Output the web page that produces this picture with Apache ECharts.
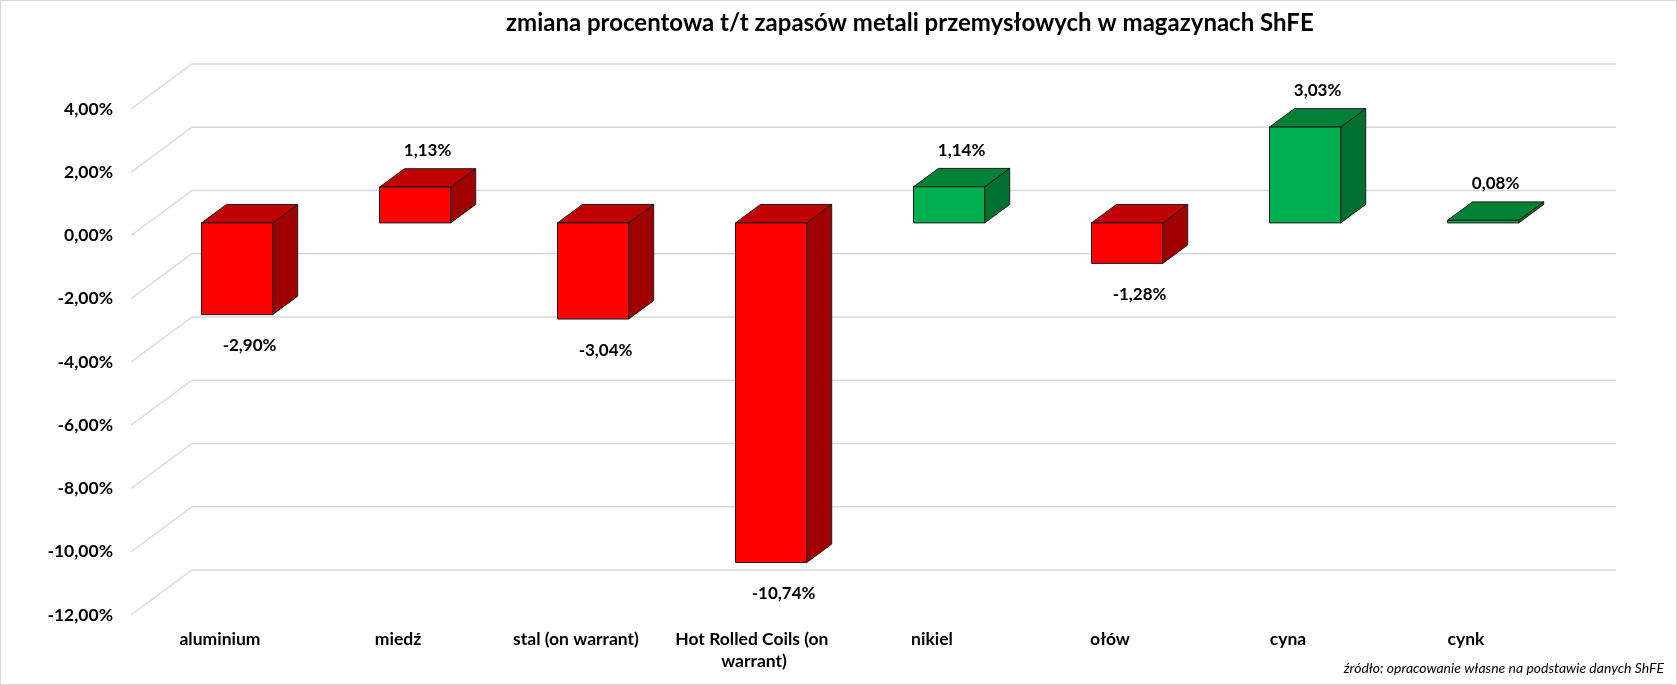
<!DOCTYPE html>
<html>
<head>
<meta charset="utf-8">
<script src="https://cdn.jsdelivr.net/npm/echarts@6/dist/echarts.min.js"></script>
<style>
    html, body { margin: 0; padding: 0; background: #fff; }
    #chart { width: 1677px; height: 685px; box-sizing: border-box; border: 1px solid #d9d9d9; }
</style>
</head>
<body>
<div id="chart"></div>
<script>
// dane
const categories = ['aluminium', 'miedź', 'stal (on warrant)', 'Hot Rolled Coils (on warrant)', 'nikiel', 'ołów', 'cyna', 'cynk'];
const changes = [-2.90, 1.13, -3.04, -10.74, 1.14, -1.28, 3.03, 0.08];
const tone = ['red', 'red', 'red', 'red', 'green', 'red', 'green', 'green'];
const yTicks = [-12, -10, -8, -6, -4, -2, 0, 2, 4];

const palette = {
    red:   { front: '#ff0000', top: '#c00000', side: '#a00000' },
    green: { front: '#00b050', top: '#008236', side: '#007030' }
};

const FONT = 'Lato, "Open Sans", sans-serif';
const DEPTH_X = 61, DEPTH_Y = -45;   // pelna glebokosc "podlogi"
const BAR_D0 = 0.28, BAR_D1 = 0.69;  // przod i tyl slupka
const BAR_W = 0.4;                   // szerokosc slupka / szerokosc kategorii

const pct = (v) => v.toFixed(2).replace('.', ',') + '%';

function renderGrid(params, api) {
    const cs = params.coordSys;
    const y = api.coord([0, api.value(1)])[1];
    return {
        type: 'polyline',
        shape: { points: [[cs.x, y], [cs.x + DEPTH_X, y + DEPTH_Y], [cs.x + cs.width + DEPTH_X, y + DEPTH_Y]] },
        style: { stroke: '#d9d9d9', lineWidth: 1.5, fill: null },
        silent: true
    };
}

function renderBar(params, api) {
    const i = api.value(0), v = api.value(1);
    const c = palette[tone[i]];
    const p0 = api.coord([i, 0]), p1 = api.coord([i, v]);
    const w = api.size([1, 0])[0] * BAR_W;
    const ox = DEPTH_X * BAR_D0, oy = DEPTH_Y * BAR_D0;
    const dx = DEPTH_X * (BAR_D1 - BAR_D0), dy = DEPTH_Y * (BAR_D1 - BAR_D0);
    const xl = p0[0] - w / 2 + ox, xr = xl + w;
    const yTop = Math.min(p0[1], p1[1]) + oy, yBot = Math.max(p0[1], p1[1]) + oy;
    const edge = { stroke: '#1a1a1a', lineWidth: 1, lineJoin: 'round' };
    const cx = (xl + xr + dx) / 2;
    const labelY = v >= 0 ? yTop + dy - 18 : yBot + 31;
    return {
        type: 'group',
        children: [
            { type: 'polygon', shape: { points: [[xr, yTop], [xr + dx, yTop + dy], [xr + dx, yBot + dy], [xr, yBot]] },
              style: Object.assign({ fill: c.side }, edge) },
            { type: 'polygon', shape: { points: [[xl, yTop], [xl + dx, yTop + dy], [xr + dx, yTop + dy], [xr, yTop]] },
              style: Object.assign({ fill: c.top }, edge) },
            { type: 'rect', shape: { x: xl, y: yTop, width: w, height: Math.max(yBot - yTop, 1) },
              style: Object.assign({ fill: c.front }, edge) },
            { type: 'text', x: cx, y: labelY,
              style: { text: pct(v), fill: '#000', font: 'bold 17px ' + FONT, align: 'center', verticalAlign: 'middle' } }
        ]
    };
}

const chart = echarts.init(document.getElementById('chart'));
chart.setOption({
    animation: false,
    title: {
        text: 'zmiana procentowa t/t zapasów metali przemysłowych w magazynach ShFE',
        left: 500, top: 5,
        textStyle: { fontFamily: FONT, fontWeight: 'bold', fontSize: 24, color: '#000' }
    },
    grid: { left: 130, right: 121, top: 108, bottom: 69, containLabel: false },
    xAxis: {
        type: 'category',
        data: categories,
        axisLine: { show: false, onZero: false },
        axisTick: { show: false },
        axisLabel: {
            interval: 0, margin: 13, color: '#000',
            fontFamily: FONT, fontWeight: 'bold', fontSize: 17.5, lineHeight: 22,
            width: 178, overflow: 'break'
        }
    },
    yAxis: {
        type: 'value',
        min: -12, max: 4, interval: 2,
        axisLine: { show: false },
        axisTick: { show: false },
        splitLine: { show: false },
        axisLabel: {
            margin: 18, color: '#000', formatter: pct,
            fontFamily: FONT, fontWeight: 'bold', fontSize: 17.5
        }
    },
    graphic: [{
        type: 'text', right: 12, bottom: 9,
        style: { text: 'źródło: opracowanie własne na podstawie danych ShFE', fill: '#000',
                 font: 'italic 14px ' + FONT }
    }],
    series: [
        { type: 'custom', name: 'siatka', z: 1, renderItem: renderGrid,
          data: yTicks.map(t => [0, t]) },
        { type: 'custom', name: 'zmiana', z: 2, renderItem: renderBar,
          data: changes.map((v, i) => [i, v]) }
    ]
});
</script>
</body>
</html>
